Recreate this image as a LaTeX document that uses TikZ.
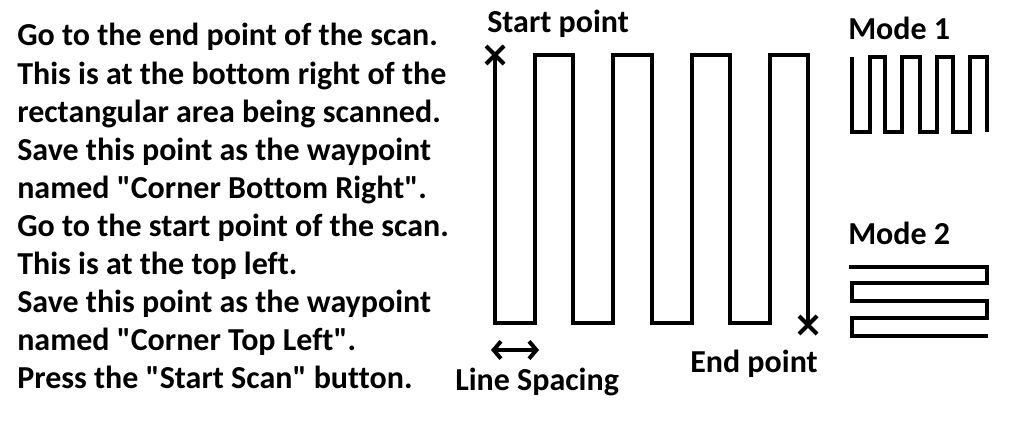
\documentclass[tikz,border=0pt]{standalone}
\usepackage{fontspec}
\newfontfamily\carlito{Carlito}[Ligatures={NoCommon}]
\usetikzlibrary{shapes.misc,arrows.meta}

\begin{document}
\begin{tikzpicture}[x=0.75pt, y=-0.75pt,
        every node/.style={inner sep=0pt, font=\fontsize{24}{29}\carlito\bfseries},
        txt/.style={anchor=base west},
        crossmark/.style={draw, cross out, minimum size=10.5pt, line width=3pt},
        scan/.style={line width=3.6pt, line join=miter},
        mode/.style={line width=3.6pt, line join=miter}
      ]
        \useasboundingbox (0,0) rectangle (1020,427);

        % instructions
        \node[txt] (l1) at (17,46) {Go to the end point of the scan.};
        \node[txt] (l2) at (17,84.1) {This is at the bottom right of the};
        \node[txt] (l3) at (17,122.2) {rectangular area being scanned.};
        \node[txt] (l4) at (17,160.3) {Save this point as the waypoint};
        \node[txt] (l5) at (17,198.4) {named "Corner Bottom Right".};
        \node[txt] (l6) at (17,236.5) {Go to the start point of the scan.};
        \node[txt] (l7) at (17,274.6) {This is at the top left.};
        \node[txt] (l8) at (17,312.7) {Save this point as the waypoint};
        \node[txt] (l9) at (17,350.8) {named "Corner Top Left".};
        \node[txt] (l10) at (17,388.9) {Press the "Start Scan" button.};

        % scan path
        \node[txt] (startlbl) at (487,33) {Start point};
        \node[crossmark] (startpt) at (495,55) {};
        \node[crossmark] (endpt) at (808,325) {};
        \node[txt] (endlbl) at (690,372) {End point};
        \draw[scan] (startpt.center) -- (495,323) -- (535,323) -- (535,55) -- (573,55)
          -- (573,323) -- (613,323) -- (613,55) -- (652,55) -- (652,323) -- (692,323)
          -- (692,55) -- (730,55) -- (730,323) -- (770,323) -- (770,55) -- (808,55)
          -- (endpt.center);

        % line spacing
        \coordinate (spL) at (491,350);
        \coordinate (spR) at (539,350);
        \draw[line width=3pt, {Straight Barb[length=5.5pt,width=13pt]}-{Straight Barb[length=5.5pt,width=13pt]}] (spL) -- (spR);
        \node[txt] (spacing) at (455,390) {Line Spacing};

        % modes
        \node[txt] (mode1) at (848,40) {Mode 1};
        \draw[mode] (852,57) -- (852,132) -- (870,132) -- (870,57) -- (885,57) -- (885,132)
          -- (902,132) -- (902,57) -- (920,57) -- (920,132) -- (937,132) -- (937,57)
          -- (953,57) -- (953,132) -- (970,132) -- (970,57) -- (987,57) -- (987,132);

        \node[txt] (mode2) at (848,245) {Mode 2};
        \draw[mode] (849,267) -- (987,267) -- (987,283) -- (852,283) -- (852,301) -- (987,301)
          -- (987,318) -- (852,318) -- (852,336) -- (988,336);
      \end{tikzpicture}
\end{document}
